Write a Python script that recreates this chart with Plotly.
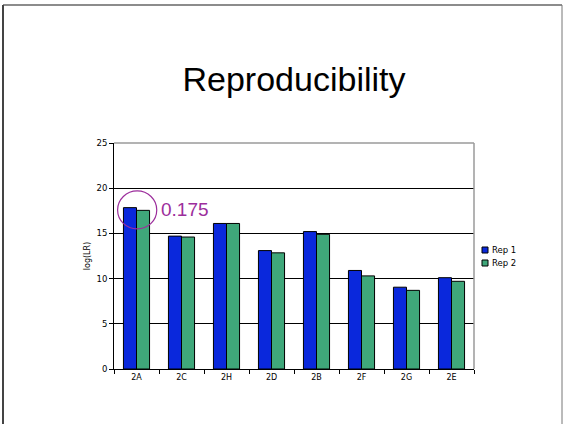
import plotly.graph_objects as go

categories = ["2A", "2C", "2H", "2D", "2B", "2F", "2G", "2E"]
rep1 = [17.85, 14.7, 16.1, 13.1, 15.2, 10.9, 9.05, 10.1]
rep2 = [17.55, 14.6, 16.1, 12.85, 14.9, 10.3, 8.7, 9.7]
series_names = ["Rep 1", "Rep 2"]
y_ticks = [0, 5, 10, 15, 20, 25]
title_text = "Reproducibility"
y_title = "log(LR)"
note_text = "0.175"

BLUE = "#0A28DC"
GREEN = "#3FA77A"
PURPLE = "#9C2E9C"
colors = [BLUE, GREEN]

fig = go.Figure()
for name, vals, col in zip(series_names, [rep1, rep2], colors):
    fig.add_trace(go.Bar(x=categories, y=vals, name=name, showlegend=False,
                         marker=dict(color=col, line=dict(color="black", width=1))))

L, R, T, B = 114, 90, 143, 55
W, H = 564, 424
pw = W - L - R
ph = H - T - B

def px_x(p):
    return (p - L) / pw

def px_y(p):
    return (H - B - p) / ph

fig.update_layout(
    width=W, height=H,
    margin=dict(l=L, r=R, t=T, b=B),
    paper_bgcolor="white", plot_bgcolor="white",
    barmode="group", bargap=0.42, bargroupgap=0,
    font=dict(family="DejaVu Sans", size=8, color="black"),
    title=dict(text=title_text, x=0.5, xref="paper", xanchor="center",
               y=1 - 79 / H, yref="container", yanchor="middle",
               font=dict(family="Liberation Sans, Arial", size=34, color="black")),
    showlegend=False,
)
fig.update_xaxes(type="category", showline=True, linecolor="black", linewidth=1,
                 ticks="outside", tickson="boundaries", ticklen=4, tickcolor="black",
                 showgrid=False, tickfont=dict(size=8))
fig.update_yaxes(range=[0, 25], tickvals=y_ticks, showline=True, linecolor="black",
                 linewidth=1, ticks="outside", ticklen=4, tickcolor="black",
                 showgrid=True, gridcolor="black", gridwidth=1, zeroline=False,
                 tickfont=dict(size=8.5),
                 title=dict(text=y_title, font=dict(size=8), standoff=4))

# plot border (top and right) in gray
fig.add_shape(type="line", xref="paper", yref="paper", x0=0, x1=1, y0=1, y1=1,
              line=dict(color="#9a9a9a", width=1.5), layer="above")
fig.add_shape(type="line", xref="paper", yref="paper", x0=1, x1=1, y0=0, y1=1,
              line=dict(color="#9a9a9a", width=1.5), layer="above")

# legend (small squares like the original)
for i, (name, col) in enumerate(zip(series_names, colors)):
    yc = 250 + 13 * i
    fig.add_shape(type="rect", xref="paper", yref="paper",
                  x0=px_x(482), x1=px_x(488), y0=px_y(yc - 3), y1=px_y(yc + 3),
                  fillcolor=col, line=dict(color="black", width=1), layer="above")
    fig.add_annotation(xref="paper", yref="paper", x=px_x(489.5), y=px_y(yc),
                       text=name, showarrow=False, xanchor="left", yanchor="middle",
                       font=dict(family="DejaVu Sans", size=8.5, color="black"))

# highlight circle and note
fig.add_shape(type="circle", xref="x", yref="y", x0=-0.42, x1=0.45, y0=15.5, y1=19.7,
              line=dict(color=PURPLE, width=1.2), layer="above")
fig.add_annotation(x=0.5, y=17.6, xref="x", yref="y", text=note_text, showarrow=False,
                   xanchor="left", yanchor="middle",
                   font=dict(family="Liberation Sans, Arial", size=19, color=PURPLE))

# slide frame
fig.add_shape(type="line", xref="paper", yref="paper",
              x0=px_x(3), x1=px_x(562), y0=px_y(5), y1=px_y(5),
              line=dict(color="#666666", width=1.5), layer="above")
fig.add_shape(type="line", xref="paper", yref="paper",
              x0=px_x(3), x1=px_x(3), y0=px_y(5), y1=px_y(430),
              line=dict(color="#444444", width=2), layer="above")
fig.add_shape(type="line", xref="paper", yref="paper",
              x0=px_x(562), x1=px_x(562), y0=px_y(5), y1=px_y(430),
              line=dict(color="#777777", width=1), layer="above")

fig.write_html("out.html", config={"displayModeBar": False},
               post_script="document.body.style.margin='0';document.body.style.overflow='hidden';")
